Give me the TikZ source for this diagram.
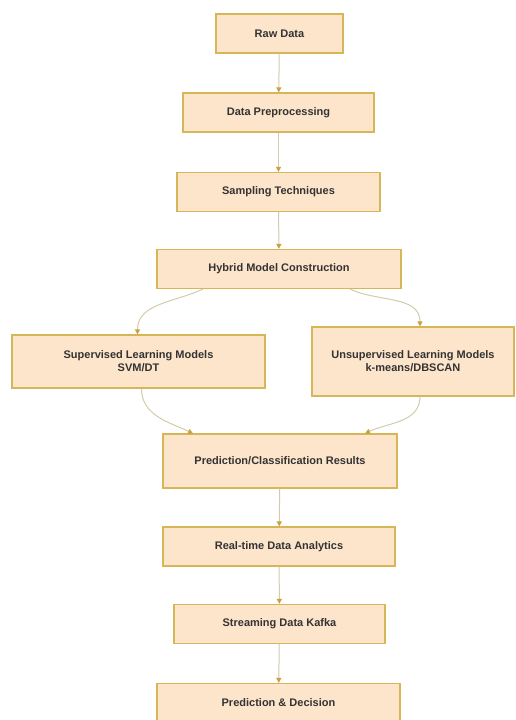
\documentclass[tikz,border=0pt]{standalone}
\usepackage{fontspec}
\setmainfont{Liberation Sans}
\usetikzlibrary{arrows.meta, positioning, calc}
\definecolor{boxfill}{HTML}{FDE5CB}
\definecolor{boxline}{HTML}{D6B656}
\definecolor{linkline}{HTML}{D2CBAE}
\definecolor{tipfill}{HTML}{C9A23E}
\definecolor{boxtext}{HTML}{333333}
\tikzset{
  stage/.style={
    rectangle, draw=boxline, fill=boxfill, line width=1.2pt,
    minimum height=39pt, align=center, inner sep=2pt,
    font=\fontsize{11}{13}\selectfont\bfseries, text=boxtext,
  },
  arrow/.style={
    draw=linkline, line width=1pt,
    -{Triangle[length=5pt, width=5pt, fill=tipfill, color=tipfill]},
  },
}

\begin{document}
\begin{tikzpicture}[x=1pt, y=-1pt]

  \useasboundingbox (0,0) rectangle (516,720);

  \node[stage, minimum width=127pt] (raw)    at (279.5, 33.5) {Raw Data};
  \node[stage, minimum width=191pt] (prep)   at (278.5,112.5) {Data Preprocessing};
  \node[stage, minimum width=203pt] (samp)   at (278.5,192)   {Sampling Techniques};
  \node[stage, minimum width=244pt] (hybrid) at (279,  269)   {Hybrid Model Construction};

  \node[stage, minimum width=253pt, minimum height=53pt] (sup)   at (138.5,361.5)
    {Supervised Learning Models\\SVM/DT};
  \node[stage, minimum width=202pt, minimum height=69pt] (unsup) at (413,  361.5)
    {Unsupervised Learning Models\\k-means/DBSCAN};

  \node[stage, minimum width=234pt, minimum height=54pt] (pcr)   at (280,  461)
    {Prediction/Classification Results};
  \node[stage, minimum width=232pt] (rtda)     at (279,  546.5) {Real-time Data Analytics};
  \node[stage, minimum width=211pt] (kafka)    at (279.5,624)   {Streaming Data Kafka};
  \node[stage, minimum width=243pt] (decision) at (278.5,703)   {Prediction \& Decision};

  \draw[arrow] (raw)  -- (prep);
  \draw[arrow] (prep) -- (samp);
  \draw[arrow] (samp) -- (hybrid);

  % split into the two model families
  \draw[arrow] ([xshift=-76pt]hybrid.south) to[out=205, in=90] ([xshift=-1pt]sup.north);
  \draw[arrow] ([xshift=71pt]hybrid.south)  to[out=-25, in=90] ([xshift=7pt]unsup.north);

  % and back together
  \draw[arrow] ([xshift=3pt]sup.south)   to[out=-90, in=155] ([xshift=-87pt]pcr.north);
  \draw[arrow] ([xshift=7pt]unsup.south) to[out=-90, in=25]  ([xshift=85pt]pcr.north);

  \draw[arrow] (pcr)   -- (rtda);
  \draw[arrow] (rtda)  -- (kafka);
  \draw[arrow] (kafka) -- (decision);

\end{tikzpicture}
\end{document}
